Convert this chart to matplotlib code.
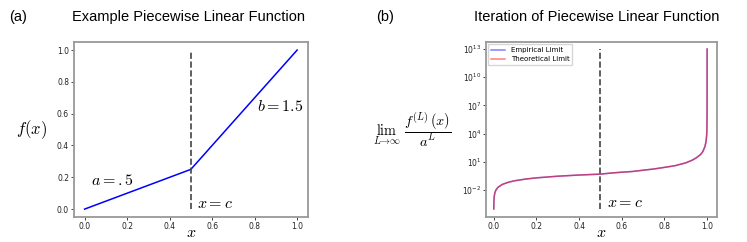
import numpy as np
import matplotlib
matplotlib.use("Agg")
import matplotlib.pyplot as plt

plt.rcParams['mathtext.fontset'] = 'cm'

# panel (a): piecewise linear function
fx = [0.0, 0.5, 1.0]
fy = [0.0, 0.25, 1.0]
c = 0.5

# panel (b): limit curve
lim_x = [0.0001, 0.0005, 0.002, 0.005, 0.01, 0.02, 0.04, 0.07, 0.1, 0.15, 0.2,
         0.3, 0.4, 0.5, 0.55, 0.6, 0.65, 0.7, 0.75, 0.8, 0.85, 0.9, 0.93,
         0.95, 0.97, 0.98, 0.99, 0.995, 0.998, 0.999, 0.9999, 0.99999,
         0.999999, 0.9999995]
theoretical = [1e-4, 5e-4, 2e-3, 5e-3, 0.01, 0.02, 0.04, 0.07, 0.1, 0.15, 0.2,
               0.3, 0.4, 0.5, 0.65, 0.8, 0.95, 1.3, 1.75, 2.6, 3.95, 7.9, 15,
               27.6, 62, 125, 433, 1440, 6800, 2.2e4, 1.06e6, 5.8e7,
               3e9, 1e13]
empirical = list(theoretical)

fig = plt.figure(figsize=(7.47, 2.42), dpi=100)
spine_col = '#999999'
tick_fs = 5.5

def style(ax):
    for s in ax.spines.values():
        s.set_color(spine_col)
        s.set_linewidth(1.3)
    ax.tick_params(labelsize=tick_fs, length=2, width=0.6, colors='#222222', pad=1.5)

# (a)
ax1 = fig.add_axes([0.099, 0.103, 0.313, 0.723])
ax1.plot(fx, fy, color='blue', lw=1.1)
ax1.vlines(c, 0, 1, colors='#444444', linestyles='--', lw=1.2)
ax1.text(0.028, 0.15, r'$a = .5$', fontsize=11.5)
ax1.text(0.81, 0.62, r'$b = 1.5$', fontsize=11.5)
ax1.text(0.53, 0.01, r'$x = c$', fontsize=11.5)
ax1.set_xlabel(r'$x$', fontsize=11.5, labelpad=-4)
ax1.set_ylabel(r'$f(x)$', fontsize=12, rotation=0, labelpad=18, va='center')
style(ax1)

# (b)
ax2 = fig.add_axes([0.651, 0.103, 0.309, 0.723])
ax2.plot(lim_x, empirical, color='blue', alpha=0.5, lw=1.1, label='Empirical Limit')
ax2.plot(lim_x, theoretical, color='red', alpha=0.5, lw=1.1, label='Theoretical Limit')
ax2.vlines(c, 1e-4, 1e13, colors='#444444', linestyles='--', lw=1.2)
ax2.set_yscale('log')
ax2.set_ylim(10 ** -4.87, 10 ** 13.74)
ax2.set_xlim(-0.035, 1.047)
ax2.set_yticks([1e-2, 1e1, 1e4, 1e7, 1e10, 1e13])
ax2.yaxis.set_minor_locator(matplotlib.ticker.NullLocator())
ax2.text(0.53, 10 ** -3.8, r'$x = c$', fontsize=11.5)
ax2.set_xlabel(r'$x$', fontsize=11.5, labelpad=-4)
ax2.set_ylabel(r'$\lim_{L\to\infty}\ \dfrac{f^{(L)}(x)}{a^L}$', fontsize=10.3,
               rotation=0, labelpad=36, va='center')
ax2.legend(loc='upper left', fontsize=5, borderpad=0.4, handlelength=2.0,
           borderaxespad=0.3, fancybox=False)
style(ax2)

# panel titles
fig.text(0.012, 0.93, '(a)', fontsize=10.5, family='Liberation Sans', va='center')
fig.text(0.252, 0.93, 'Example Piecewise Linear Function', fontsize=10.5,
         family='Liberation Sans', va='center', ha='center')
fig.text(0.503, 0.93, '(b)', fontsize=10.5, family='Liberation Sans', va='center')
fig.text(0.799, 0.93, 'Iteration of Piecewise Linear Function', fontsize=10.5,
         family='Liberation Sans', va='center', ha='center')

fig.savefig('out.png', dpi=100)
